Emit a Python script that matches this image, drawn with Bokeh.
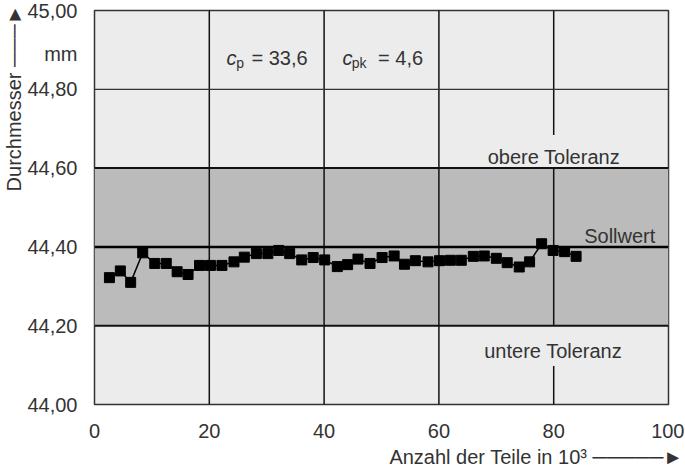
from bokeh.plotting import figure
from bokeh.models import (Label, Title, FixedTicker, Range1d, CustomJSTickFormatter)
from bokeh.embed import file_html
from bokeh.resources import INLINE

# ---- data -------------------------------------------------------------
parts_k = [2.6, 4.5, 6.3, 8.4, 10.5, 12.5, 14.4, 16.3, 18.3, 20.2,
           22.2, 24.3, 26.1, 28.2, 30.2, 32.1, 34.0, 36.1, 38.1, 40.1,
           42.3, 44.1, 45.9, 48.0, 50.1, 52.2, 54.0, 55.9, 58.1, 60.1,
           62.0, 63.9, 66.0, 67.9, 70.0, 71.9, 74.0, 75.8, 77.9, 79.9,
           81.9, 83.9]
diameter_mm = [44.322, 44.339, 44.310, 44.385, 44.358, 44.358, 44.337, 44.330, 44.353, 44.353,
               44.353, 44.362, 44.374, 44.383, 44.383, 44.391, 44.383, 44.367, 44.373, 44.367,
               44.350, 44.355, 44.369, 44.358, 44.373, 44.377, 44.356, 44.365, 44.362, 44.365,
               44.366, 44.366, 44.376, 44.377, 44.371, 44.360, 44.349, 44.362, 44.408, 44.391,
               44.388, 44.376]
x_ticks = [0, 20, 40, 60, 80, 100]
y_ticks = [44.0, 44.2, 44.4, 44.6, 44.8, 45.0]
unit_tick = 44.89          # where the "mm" unit sits on the y axis
tol_lower = 44.2
tol_upper = 44.6
target = 44.4
cp_text = "= 33,6"
cpk_text = "= 4,6"
x_title = "Anzahl der Teile in 10\u00b3 \u2500\u2500\u2500\u2500\u2500\u25ba"
y_title = "Durchmesser   \u2500\u2500\u2500\u25ba"

FONT = "Liberation Sans"
TXT = "#333333"

p = figure(width=684, height=470, x_range=Range1d(0, 100), y_range=Range1d(44, 45),
           output_backend="svg", toolbar_location=None,
           min_border_left=94, min_border_right=16, min_border_top=10, min_border_bottom=66)
p.background_fill_color = "#ececec"
p.border_fill_color = "white"
p.outline_line_color = "#333333"
p.outline_line_width = 1.5
p.grid.visible = False

for ax in (p.xaxis[0], p.yaxis[0]):
    ax.axis_line_color = None
    ax.major_tick_line_color = None
    ax.minor_tick_line_color = None
    ax.major_label_text_font = FONT
    ax.major_label_text_font_size = "20px"
    ax.major_label_text_color = TXT
    ax.major_label_standoff = 11
p.xaxis.major_label_standoff = 13
p.xaxis.ticker = FixedTicker(ticks=x_ticks)
p.yaxis.ticker = FixedTicker(ticks=y_ticks + [unit_tick])
p.yaxis.formatter = CustomJSTickFormatter(
    args=dict(unit_tick=unit_tick),
    code="if (Math.abs(tick - unit_tick) < 1e-6) { return 'mm'; } "
         "return tick.toFixed(2).replace('.', ',');")

# tolerance band
p.quad(left=[0], right=[100], bottom=[tol_lower], top=[tol_upper],
       fill_color="#bbbbbb", line_color=None)

# vertical grid lines (with gaps behind labels at 80)
p.segment(x0=[20, 40, 60, 80, 80, 80], x1=[20, 40, 60, 80, 80, 80],
          y0=[44.0, 44.0, 44.0, 44.0, 44.2, 44.684],
          y1=[45.0, 45.0, 45.0, 44.098, 44.6, 45.0],
          line_color="#111111", line_width=1.5)

# horizontal lines
p.segment(x0=[0], x1=[100], y0=[44.8], y1=[44.8], line_color="#333333", line_width=1.3)
p.segment(x0=[0, 0], x1=[100, 100], y0=[tol_lower, tol_upper], y1=[tol_lower, tol_upper],
          line_color="#111111", line_width=2)
p.segment(x0=[0], x1=[100], y0=[target], y1=[target], line_color="#000000", line_width=2.5)

# data
p.line(parts_k, diameter_mm, line_color="black", line_width=1.5)
p.scatter(parts_k, diameter_mm, marker="square", size=10, fill_color="black", line_color="black")

def lab(x, y, text, size="20px", align="left", baseline="middle", style="normal"):
    p.add_layout(Label(x=x, y=y, text=text, text_font=FONT, text_font_size=size,
                       text_color=TXT, text_align=align, text_baseline=baseline,
                       text_font_style=style))

lab(68.5, 44.629, "obere Toleranz")
lab(67.9, 44.136, "untere Toleranz")
lab(97.7, 44.427, "Sollwert", align="right")

# cp / cpk
lab(23.0, 44.879, "c", baseline="alphabetic", style="italic")
lab(24.7, 44.866, "p", size="14px", baseline="alphabetic")
lab(27.35, 44.879, cp_text, baseline="alphabetic")
lab(43.2, 44.879, "c", baseline="alphabetic", style="italic")
lab(44.8, 44.866, "pk", size="14px", baseline="alphabetic")
lab(49.4, 44.879, cpk_text, baseline="alphabetic")

# axis titles (outside the frame)
p.add_layout(Title(text=x_title, align="right", text_font=FONT, text_font_size="20px",
                   text_font_style="normal", text_color=TXT, standoff=6, offset=-15), "below")
p.add_layout(Title(text=y_title, align="right", text_font=FONT, text_font_size="20px",
                   text_font_style="normal", text_color=TXT, standoff=0, offset=-17), "left")

open("out.html", "w").write(file_html(p, INLINE))
